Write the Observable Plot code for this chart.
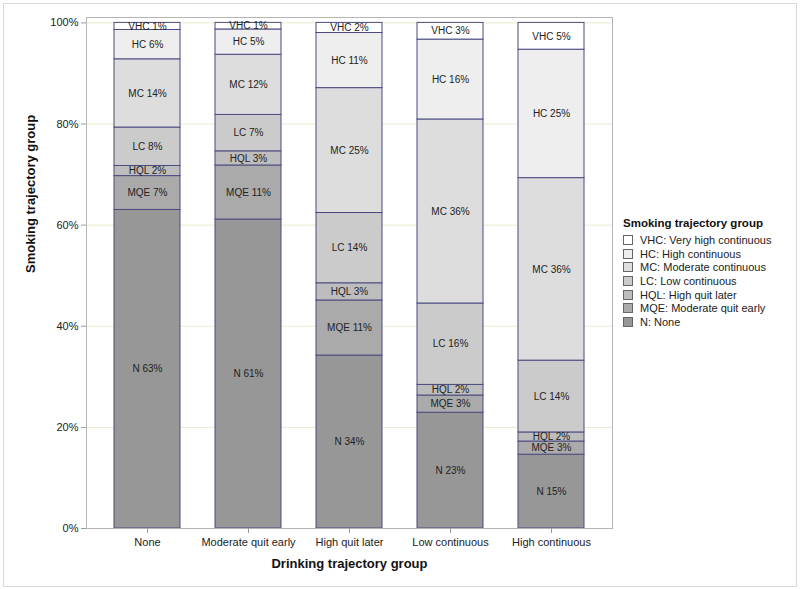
<!DOCTYPE html>
<html>
<head>
<meta charset="utf-8">
<script src="https://cdn.jsdelivr.net/npm/d3@7"></script>
<script src="https://cdn.jsdelivr.net/npm/@observablehq/plot@0.6"></script>
<style>
  html, body { margin: 0; padding: 0; background: #fff; }
  #wrap { position: relative; width: 800px; height: 589px; font-family: "Liberation Sans", Arial, sans-serif; }
  #border { position: absolute; left: 3px; top: 3px; width: 794px; height: 584px; box-sizing: border-box; border: 1px solid #d9d9d9; pointer-events: none; }
  #chart { position: absolute; left: 0; top: 0; }
  #legend { position: absolute; left: 623px; top: 217px; color: #222; }
  #legend .title { font-weight: bold; font-size: 11.5px; margin-bottom: 4px; color: #111; }
  #legend .item { display: flex; align-items: center; height: 13.7px; font-size: 11px; }
  #legend .sw { width: 8px; height: 8px; border: 1px solid #666; margin-right: 7px; box-sizing: content-box; }
</style>
</head>
<body>
<div id="wrap">
  <div id="chart"></div>
  <div id="legend"></div>
  <div id="border"></div>
</div>
<script>
// Categories
const drinking = ["None", "Moderate quit early", "High quit later", "Low continuous", "High continuous"];
const smokingCodes = ["N", "MQE", "HQL", "LC", "MC", "HC", "VHC"];
const smokingNames = ["N: None", "MQE: Moderate quit early", "HQL: High quit later", "LC: Low continuous",
                      "MC: Moderate continuous", "HC: High continuous", "VHC: Very high continuous"];
// Series values (% of each drinking group), bottom to top
const N   = [63.0, 61.1, 34.2, 22.9, 14.6];
const MQE = [6.7, 10.7, 10.9, 3.4, 2.6];
const HQL = [2.0, 2.8, 3.4, 2.1, 1.8];
const LC  = [7.6, 7.2, 13.9, 16.1, 14.2];
const MC  = [13.5, 11.9, 24.7, 36.4, 36.1];
const HC  = [5.8, 5.0, 10.9, 15.8, 25.4];
const VHC = [1.4, 1.3, 2.0, 3.3, 5.3];
const series = [N, MQE, HQL, LC, MC, HC, VHC];
const fillColors = ["#979797", "#aaaaaa", "#bdbdbd", "#cbcbcb", "#dddddd", "#eeeeee", "#ffffff"];
const yTicks = [0, 20, 40, 60, 80, 100];

const rows = [];
drinking.forEach((d, i) => {
  smokingCodes.forEach((c, j) => {
    rows.push({drink: d, code: c, value: series[j][i]});
  });
});

const chart = Plot.plot({
  width: 800,
  height: 589,
  marginLeft: 86,
  marginRight: 188,
  marginTop: 17,
  marginBottom: 61,
  style: {fontFamily: "'Liberation Sans', Arial, sans-serif", color: "#222", background: "transparent"},
  x: {domain: drinking, paddingInner: 0.35, paddingOuter: 0.27, label: null},
  y: {domain: [0, 100], insetTop: 5.4, label: null},
  color: {domain: smokingCodes, range: fillColors},
  marks: [
    Plot.gridY(yTicks.filter(d => d > 0), {stroke: "#ecebcf", strokeOpacity: 1}),
    Plot.barY(rows, {x: "drink", y: "value", fill: "code", stroke: "#4b4b80", strokeWidth: 1}),
    Plot.text(rows, Plot.stackY({x: "drink", y: "value", text: d => `${d.code} ${Math.round(d.value)}%`,
      fontSize: 10, fill: "#222"})),
    Plot.frame({stroke: "#b5b5b5"}),
    Plot.axisY(yTicks, {tickFormat: d => d + "%", tickSize: 5, tickPadding: 3, fontSize: 11, stroke: "#999", label: null}),
    Plot.axisX({tickSize: 5, tickPadding: 5, fontSize: 11, stroke: "#999", label: null}),
    Plot.text(["Smoking trajectory group"], {frameAnchor: "left", rotate: -90, dx: -56, fontSize: 13, fontWeight: "bold", fill: "#111"}),
    Plot.text(["Drinking trajectory group"], {frameAnchor: "bottom", dy: 39, fontSize: 13, fontWeight: "bold", fill: "#111"})
  ]
});
document.getElementById("chart").appendChild(chart);

// Legend (top item first)
const legend = document.getElementById("legend");
const t = document.createElement("div");
t.className = "title";
t.textContent = "Smoking trajectory group";
legend.appendChild(t);
for (let j = smokingCodes.length - 1; j >= 0; j--) {
  const it = document.createElement("div");
  it.className = "item";
  const sw = document.createElement("span");
  sw.className = "sw";
  sw.style.background = fillColors[j];
  it.appendChild(sw);
  const tx = document.createElement("span");
  tx.textContent = smokingNames[j];
  it.appendChild(tx);
  legend.appendChild(it);
}
</script>
</body>
</html>
